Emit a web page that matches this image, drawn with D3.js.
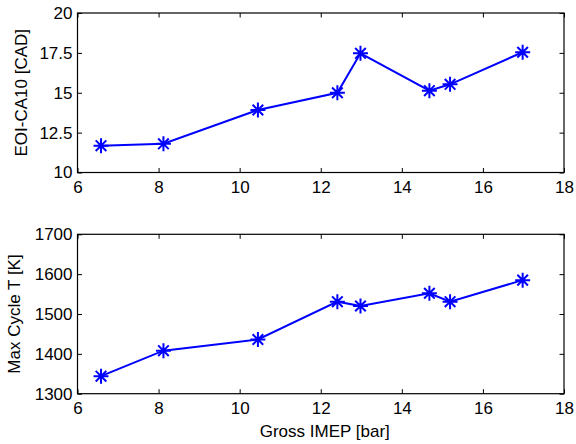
<!DOCTYPE html>
<html>
<head>
<meta charset="utf-8">
<script src="https://cdn.jsdelivr.net/npm/d3@7"></script>
<style>
  body { margin: 0; background: #fff; }
  svg text { font-family: "Liberation Sans", Arial, sans-serif; fill: #000; }
</style>
</head>
<body>
<div id="chart"></div>
<script>
  const imep = [6.58, 8.12, 10.45, 12.41, 12.98, 14.68, 15.19, 16.98];
  const eoiCa10 = [11.68, 11.8, 13.92, 15.0, 17.47, 15.13, 15.53, 17.54];
  const maxCycleT = [1344, 1408, 1436, 1531, 1520, 1552, 1531, 1585];
  const xTicks = [6, 8, 10, 12, 14, 16, 18];
  const topTicks = [10, 12.5, 15, 17.5, 20];
  const bottomTicks = [1300, 1400, 1500, 1600, 1700];

  const width = 576, height = 444;
  const left = 77.5, right = 564;
  const tickLen = 4.5;

  const svg = d3.select('#chart')
    .append('svg')
    .attr('width', width)
    .attr('height', height);

  const x = d3.scaleLinear().domain([6, 18]).range([left, right]);

  drawPanel({
    top: 13, bottom: 172.5,
    domain: [10, 20], ticks: topTicks,
    values: eoiCa10,
    label: 'EOI-CA10 [CAD]', labelX: 21.5
  });

  drawPanel({
    top: 234.3, bottom: 393.7,
    domain: [1300, 1700], ticks: bottomTicks,
    values: maxCycleT,
    label: 'Max Cycle T [K]', labelX: 14
  });

  svg.append('text')
    .attr('x', (left + right) / 2 + 4)
    .attr('y', 437)
    .attr('text-anchor', 'middle')
    .attr('font-size', 17)
    .text('Gross IMEP [bar]');

  function drawPanel(p) {
    let y = d3.scaleLinear().domain(p.domain).range([p.bottom, p.top]);
    let g = svg.append('g');

    // ticks on all four sides, pointing inward
    g.append('g')
      .attr('transform', `translate(0,${p.bottom})`)
      .call(d3.axisBottom(x).tickValues(xTicks).tickSize(-tickLen).tickPadding(8).tickFormat(d => d))
      .call(styleAxis);
    g.append('g')
      .attr('transform', `translate(0,${p.top})`)
      .call(d3.axisTop(x).tickValues(xTicks).tickSize(-tickLen).tickFormat(''))
      .call(styleAxis);
    g.append('g')
      .attr('transform', `translate(${left},0)`)
      .call(d3.axisLeft(y).tickValues(p.ticks).tickSize(-tickLen).tickPadding(5).tickFormat(d => d))
      .call(styleAxis);
    g.append('g')
      .attr('transform', `translate(${right},0)`)
      .call(d3.axisRight(y).tickValues(p.ticks).tickSize(-tickLen).tickFormat(''))
      .call(styleAxis);

    g.append('rect')
      .attr('x', left).attr('y', p.top)
      .attr('width', right - left).attr('height', p.bottom - p.top)
      .attr('fill', 'none').attr('stroke', '#000').attr('stroke-width', 1.2);

    g.append('text')
      .attr('transform', `translate(${p.labelX},${(p.top + p.bottom) / 2}) rotate(-90)`)
      .attr('text-anchor', 'middle')
      .attr('dominant-baseline', 'central')
      .attr('font-size', 17)
      .text(p.label);

    let pts = imep.map((v, i) => [v, p.values[i]]);
    g.append('path')
      .datum(pts)
      .attr('fill', 'none')
      .attr('stroke', '#0000ff')
      .attr('stroke-width', 2)
      .attr('d', d3.line().x(d => x(d[0])).y(d => y(d[1])));

    // asterisk markers
    let r = 7.5, rd = 5.3;
    let star = `M0,${-r}V${r}M${-r},0H${r}M${-rd},${-rd}L${rd},${rd}M${-rd},${rd}L${rd},${-rd}`;
    g.selectAll('.marker')
      .data(pts)
      .enter()
      .append('path')
      .attr('class', 'marker')
      .attr('transform', d => `translate(${x(d[0])},${y(d[1])})`)
      .attr('d', star)
      .attr('fill', 'none')
      .attr('stroke', '#0000ff')
      .attr('stroke-width', 2);
  }

  function styleAxis(sel) {
    sel.select('.domain').remove();
    sel.selectAll('.tick line').attr('stroke', '#000').attr('stroke-width', 1);
    sel.selectAll('.tick text')
      .attr('font-size', 17)
      .attr('font-family', '"Liberation Sans", Arial, sans-serif')
      .attr('fill', '#000');
  }
</script>
</body>
</html>
